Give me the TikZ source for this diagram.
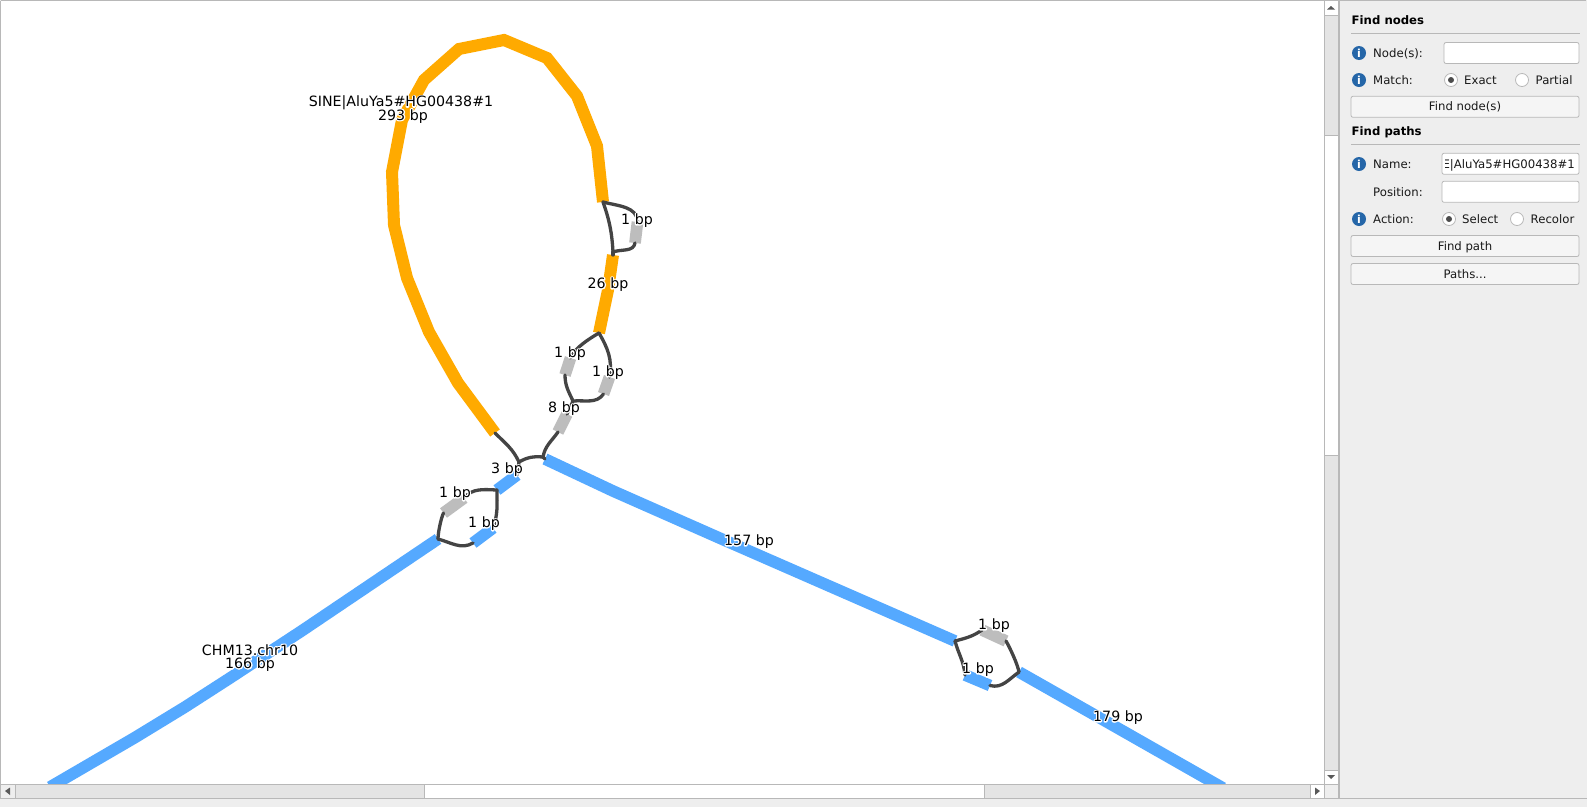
\documentclass[tikz,border=0pt]{standalone}
\usepackage{fontspec}
\setmainfont{DejaVu Sans}
\definecolor{seqorange}{HTML}{FFAA00}
\definecolor{seqblue}{HTML}{55A9FF}
\definecolor{seqgray}{HTML}{BDBDBD}
\definecolor{linkgray}{HTML}{444444}
\definecolor{panelbg}{HTML}{EEEEEE}
\definecolor{framegray}{HTML}{B8B8B8}
\definecolor{troughgray}{HTML}{E4E4E4}
\definecolor{infoblue}{HTML}{2566A8}
\newcommand{\bpfont}{\fontsize{14.2}{13.3}\selectfont}
\newcommand{\uifont}{\fontsize{11.7}{13}\selectfont}
% white outline under a label
\newcommand{\halo}[1]{\leavevmode\rlap{\special{pdf:code q 1 Tr 2.4 w 1 j 1 1 1 RG}#1\special{pdf:code Q}}#1}

\begin{document}
\begin{tikzpicture}[x=1pt,y=-1pt]
\tikzstyle{blueSeq}=[line width=11.7pt, color=seqblue]
\tikzstyle{orangeSeq}=[line width=12pt, color=seqorange]
\tikzstyle{shortSeq}=[line width=11.7pt, color=seqgray]
\tikzstyle{linkStyle}=[line width=3.3pt, color=linkgray, line cap=round]
\tikzstyle{bpLabel}=[font=\bpfont, inner sep=0pt, text height=10.5pt, text depth=2.8pt, text=black]
\tikzstyle{uiText}=[font=\uifont, inner sep=0pt, anchor=base west, text=black!90]
\tikzstyle{uiHead}=[font=\uifont\bfseries, inner sep=0pt, anchor=base west, text=black]
\tikzstyle{infoIcon}=[shape=circle, minimum size=14pt, inner sep=0pt, fill=infoblue, text=white, font=\fontsize{11}{11}\selectfont\bfseries]
\tikzstyle{inputBox}=[shape=rectangle, rounded corners=2pt, fill=white, draw=framegray, line width=0.8pt, inner sep=0pt, minimum height=21pt]
\tikzstyle{pushButton}=[shape=rectangle, rounded corners=2pt, fill=black!4, draw=framegray, line width=0.8pt, inner sep=0pt, minimum width=228pt, minimum height=21pt, text height=9.5pt, text depth=1.5pt, font=\uifont, text=black!90]
\tikzstyle{radioOff}=[shape=circle, minimum size=13pt, inner sep=0pt, fill=white, draw=framegray, line width=0.8pt]
\tikzstyle{radioDot}=[shape=circle, minimum size=6pt, inner sep=0pt, fill=black!70]
\useasboundingbox (0,0) rectangle (1587,807);
% window and canvas
\fill[panelbg] (0,0) rectangle (1587,807);
\fill[white] (1,1) rectangle (1324,784);
\draw[framegray, line width=1pt] (0.5,0.5) -- (1586,0.5);
\draw[framegray, line width=1pt] (0.5,0.5) -- (0.5,798);
% segment ends
\coordinate (o1) at (495,433);
\coordinate (o2) at (458,383);
\coordinate (o3) at (429,332);
\coordinate (o4) at (407,278);
\coordinate (o5) at (394,225);
\coordinate (o6) at (392,172);
\coordinate (o7) at (402,120);
\coordinate (o8) at (424,80);
\coordinate (o9) at (459,49);
\coordinate (o10) at (504,40);
\coordinate (o11) at (547,58);
\coordinate (o12) at (577,96);
\coordinate (o13) at (597,146);
\coordinate (o14) at (603,202);
\coordinate (g1a) at (637.5,222);
\coordinate (g1b) at (635,243);
\coordinate (j1) at (613,252);
\coordinate (m1) at (613,255);
\coordinate (m2) at (608,290);
\coordinate (m3) at (599,333);
\coordinate (g2a) at (570.5,358);
\coordinate (g2b) at (565,375);
\coordinate (g3a) at (609.5,377);
\coordinate (g3b) at (603.5,394);
\coordinate (j2) at (573,401);
\coordinate (g4a) at (567,414);
\coordinate (g4b) at (558,432);
\coordinate (j3) at (543,457);
\coordinate (j4) at (519,462);
\coordinate (b1a) at (517,475);
\coordinate (b1b) at (497,490);
\coordinate (g5a) at (464,498);
\coordinate (g5b) at (443.5,513);
\coordinate (b2a) at (493,528);
\coordinate (b2b) at (473,543);
\coordinate (l1) at (438,539);
\coordinate (l2) at (303,630);
\coordinate (l3) at (230,678);
\coordinate (l4) at (185,707);
\coordinate (l5) at (135,737.5);
\coordinate (l6) at (50,787);
\coordinate (r1) at (545,459);
\coordinate (r2) at (613,491);
\coordinate (r3) at (724,540);
\coordinate (r4) at (955,641);
\coordinate (g6a) at (982,630);
\coordinate (g6b) at (1006,641);
\coordinate (b3a) at (965,675);
\coordinate (b3b) at (990,685.5);
\coordinate (s1) at (1019,672);
\coordinate (s2) at (1100,718);
\coordinate (s3) at (1223,788);
% sequences
\draw[orangeSeq] (o1) -- (o2) -- (o3) -- (o4) -- (o5) -- (o6) -- (o7) -- (o8) -- (o9) -- (o10) -- (o11) -- (o12) -- (o13) -- (o14);
\draw[orangeSeq] (m1) -- (m2) -- (m3);
\draw[shortSeq] (g1a) -- (g1b);
\draw[shortSeq] (g2a) -- (g2b);
\draw[shortSeq] (g3a) -- (g3b);
\draw[shortSeq] (g4a) -- (g4b);
\draw[shortSeq] (g5a) -- (g5b);
\draw[shortSeq] (g6a) -- (g6b);
\draw[blueSeq] (b1a) -- (b1b);
\draw[blueSeq] (b2a) -- (b2b);
\draw[blueSeq] (b3a) -- (b3b);
\draw[blueSeq] (l1) -- (l2) -- (l3) -- (l4) -- (l5) -- (l6);
\draw[blueSeq] (r1) -- (r2) -- (r3) -- (r4);
\draw[blueSeq] (s1) -- (s2) -- (s3);
% links
\path [linkStyle]
(o14) edge [bend left=8] (j1)
(o14) edge [out=-15, in=90] (g1a)
(g1b) edge [out=-100, in=20] (j1)
(j1) edge (m1)
(m3) edge [out=-150, in=70, looseness=0.7] (g2a)
(m3) edge [out=-60, in=80] (g3a)
(g2b) edge [out=-90, in=115] (j2)
(g3b) edge [out=-125, in=5] (j2)
(j2) edge (g4a)
(g4b) edge [out=-125, in=80] (j3)
(o1) edge [out=-45, in=115] (j4)
(j3) edge [out=175, in=30] (j4)
(j4) edge (b1a)
(j3) edge (r1)
(b1b) edge [out=178, in=50] (g5a)
(b1b) edge [out=-90, in=70] (b2a)
(g5b) edge [out=-115, in=90, looseness=0.6] (l1)
(b2b) edge [out=-150, in=-15] (l1)
(r4) edge [out=15, in=-145] (g6a)
(r4) edge [out=-75, in=95] (b3a)
(g6b) edge [out=-60, in=100, looseness=0.6] (s1)
(b3b) edge [out=-15, in=-145] (s1);
% labels
\node[bpLabel] (lab0) at (401,102.9) {\halo{SINE|AluYa5\#HG00438\#1}};
\node[bpLabel] (lab0b) at (403,116.2) {\halo{293 bp}};
\node[bpLabel] (lab1) at (637,220.5) {\halo{1 bp}};
\node[bpLabel] (lab2) at (608,284.5) {\halo{26 bp}};
\node[bpLabel] (lab3) at (570,353.5) {\halo{1 bp}};
\node[bpLabel] (lab4) at (608,372.5) {\halo{1 bp}};
\node[bpLabel] (lab5) at (564,408.5) {\halo{8 bp}};
\node[bpLabel] (lab6) at (507,469.5) {\halo{3 bp}};
\node[bpLabel] (lab7) at (455,493.5) {\halo{1 bp}};
\node[bpLabel] (lab8) at (484,523.5) {\halo{1 bp}};
\node[bpLabel] (lab9) at (749,541.5) {\halo{157 bp}};
\node[bpLabel] (lab10) at (994,625.5) {\halo{1 bp}};
\node[bpLabel] (lab11) at (978,669.5) {\halo{1 bp}};
\node[bpLabel] (lab12) at (1118,717.5) {\halo{179 bp}};
\node[bpLabel] (lab13) at (250,651.2) {\halo{CHM13.chr10}};
\node[bpLabel] (lab13b) at (250,664.5) {\halo{166 bp}};
% scroll bars
\fill[panelbg] (1,784) rectangle (1338,798);
\fill[white] (1324,1) rectangle (1338,784);
\fill[white] (15,784) rectangle (1324,798);
\fill[troughgray] (1325,15) rectangle (1338,135);
\fill[troughgray] (1325,455) rectangle (1338,770);
\fill[troughgray] (15,785) rectangle (424,798);
\fill[troughgray] (984,785) rectangle (1310,798);
\fill[panelbg] (1325,785) rectangle (1338,798);
\draw[framegray, line width=0.8pt] (1,784) -- (1338,784);
\draw[framegray, line width=0.8pt] (0,798.5) -- (1587,798.5);
\draw[framegray, line width=0.8pt] (1324,0) -- (1324,798);
\draw[framegray, line width=0.6pt] (15,784) -- (15,798) (424,784) -- (424,798) (984,784) -- (984,798) (1310,784) -- (1310,798);
\draw[framegray, line width=0.6pt] (1324,15) -- (1338,15) (1324,135) -- (1338,135) (1324,455) -- (1338,455) (1324,770) -- (1338,770);
\fill[framegray] (1338,0) rectangle (1340,798);
\fill[black!65] (10,787.5) -- (10,795) -- (5,791) -- cycle;
\fill[black!65] (1315,787.5) -- (1315,795) -- (1320,791) -- cycle;
\fill[black!65] (1327,9.5) -- (1335,9.5) -- (1331,6) -- cycle;
\fill[black!65] (1327,775) -- (1335,775) -- (1331,779) -- cycle;
% side panel
\node[uiHead] (findnodes) at (1351.5,24) {Find nodes};
\draw[framegray, line width=0.8pt] (1351,33.5) -- (1580,33.5);
\node[infoIcon] (info1) at (1359,53) {i};
\node[uiText] (nodeslabel) at (1373,57.3) {Node(s):};
\node[inputBox, minimum width=135pt] (nodesinput) at (1511.5,53) {};
\node[infoIcon] (info2) at (1359,80) {i};
\node[uiText] (matchlabel) at (1373,84.3) {Match:};
\node[radioOff] (exactradio) at (1451,80) {};
\node[radioDot] at (exactradio) {};
\node[uiText] (exactlabel) at (1464,84.3) {Exact};
\node[radioOff] (partialradio) at (1522,80) {};
\node[uiText] (partiallabel) at (1535.5,84.3) {Partial};
\node[pushButton] (findnodebtn) at (1465,106.8) {Find node(s)};
\node[uiHead] (findpaths) at (1351.5,135) {Find paths};
\draw[framegray, line width=0.8pt] (1351,144) -- (1580,144);
\node[infoIcon] (info3) at (1359,164) {i};
\node[uiText] (namelabel) at (1373,168.3) {Name:};
\node[inputBox, minimum width=137pt] (nameinput) at (1510.5,163.8) {};
\begin{scope}
\clip (1445,154) rectangle (1578,173);
\node[uiText, anchor=base east] (namevalue) at (1575,168.3) {SINE|AluYa5\#HG00438\#1};
\end{scope}
\node[uiText] (positionlabel) at (1373,196) {Position:};
\node[inputBox, minimum width=137pt] (positioninput) at (1510.5,191.8) {};
\node[infoIcon] (info4) at (1359,219) {i};
\node[uiText] (actionlabel) at (1373,223.3) {Action:};
\node[radioOff] (selectradio) at (1449,219) {};
\node[radioDot] at (selectradio) {};
\node[uiText] (selectlabel) at (1462,223.3) {Select};
\node[radioOff] (recolorradio) at (1517,219) {};
\node[uiText] (recolorlabel) at (1530.5,223.3) {Recolor};
\node[pushButton] (findpathbtn) at (1465,246) {Find path};
\node[pushButton] (pathsbtn) at (1465,274) {Paths...};
\end{tikzpicture}
\end{document}
